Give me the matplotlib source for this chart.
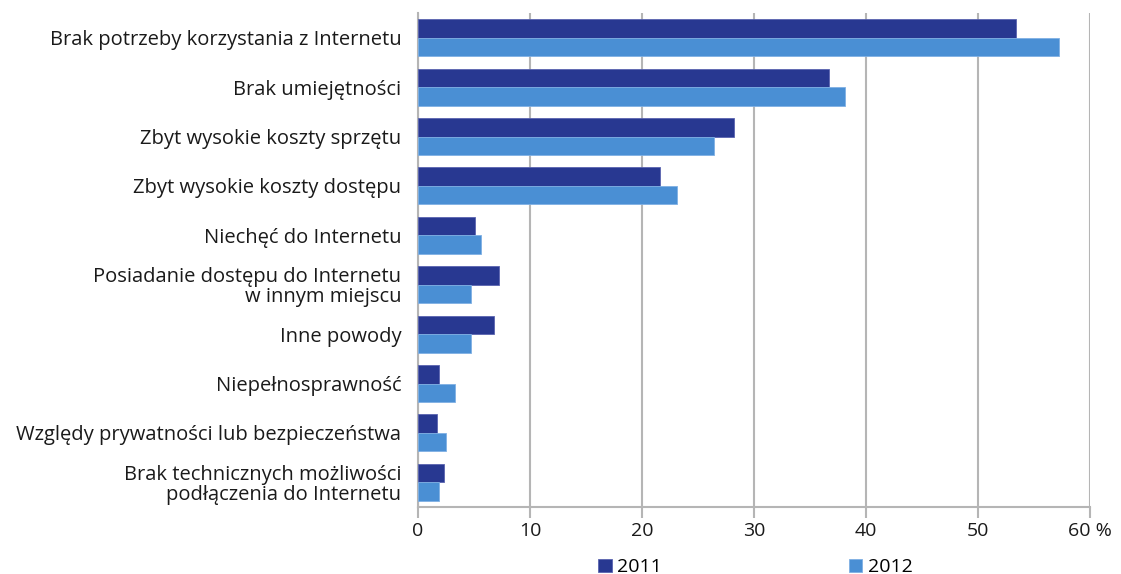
import matplotlib.pyplot as plt
import numpy as np

plt.rcParams['font.family'] = ['Open Sans', 'DejaVu Sans']

# Powody braku dostępu do Internetu w domu (%)
categories = [
    'Brak potrzeby korzystania z Internetu',
    'Brak umiejętności',
    'Zbyt wysokie koszty sprzętu',
    'Zbyt wysokie koszty dostępu',
    'Niechęć do Internetu',
    'Posiadanie dostępu do Internetu\nw innym miejscu',
    'Inne powody',
    'Niepełnosprawność',
    'Względy prywatności lub bezpieczeństwa',
    'Brak technicznych możliwości\npodłączenia do Internetu',
]
values_2011 = [53.4, 36.7, 28.2, 21.6, 5.1, 7.2, 6.8, 1.9, 1.7, 2.3]
values_2012 = [57.2, 38.1, 26.4, 23.1, 5.6, 4.7, 4.7, 3.3, 2.5, 1.9]
x_ticks = [0, 10, 20, 30, 40, 50, 60]
x_labels = ['0', '10', '20', '30', '40', '50', '60 %']

dark = '#283891'
light = '#4a8fd4'
grid_col = '#b5b5b5'

fig = plt.figure(figsize=(11.21, 5.74), dpi=100)
ax = fig.add_axes([0.3729, 0.1167, 0.5995, 0.8606])

y = np.arange(len(categories))
h = 0.375
ax.barh(y - h / 2, values_2011, height=h, color=dark, label='2011',
        edgecolor='#5a64b0', linewidth=0.6, zorder=3)
ax.barh(y + h / 2, values_2012, height=h, color=light, label='2012',
        edgecolor='#7fb0e4', linewidth=0.6, zorder=3)

ax.set_ylim(len(categories) - 0.5, -0.5)
ax.set_xlim(0, 60)
ax.set_yticks(y)
ax.set_yticklabels(categories, fontsize=14.5, color='#1a1a1a', linespacing=1.0)
ax.set_xticks(x_ticks)
ax.set_xticklabels(x_labels, fontsize=14, color='#1a1a1a')

ax.grid(axis='x', color=grid_col, linewidth=1.5, zorder=0)
for side in ['top', 'right']:
    ax.spines[side].set_visible(False)
for side in ['left', 'bottom']:
    ax.spines[side].set_color(grid_col)
    ax.spines[side].set_linewidth(1.5)
ax.tick_params(axis='y', length=0, pad=12)
ax.tick_params(axis='x', length=8, width=1.5, color=grid_col, pad=3)

fig.legend(loc='center', bbox_to_anchor=(0.674, 0.012), ncol=2,
           frameon=False, fontsize=14, handlelength=0.7, handleheight=0.7,
           handletextpad=0.3, columnspacing=9.6)

fig.savefig('out.png', dpi=100)
